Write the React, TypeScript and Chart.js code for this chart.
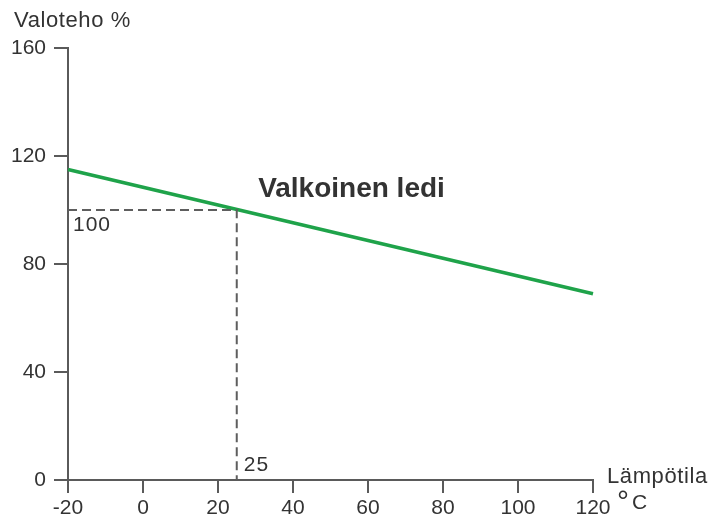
import React, { useEffect, useRef } from "react";
import { Chart, registerables } from "chart.js";

Chart.register(...registerables);

const temperatures = [-20, 120];
const lightOutput = [115, 69];
const refX = [-20, 25, 25];
const refY = [100, 100, 0];
const xTicks = [-20, 0, 20, 40, 60, 80, 100, 120];
const yTicks = [0, 40, 80, 120, 160];
const seriesLabel = "Valkoinen ledi";
const yTitle = "Valoteho %";
const xTitle = "Lämpötila";
const xUnitDeg = "°";
const xUnitC = "C";
const refXLabel = "25";
const refYLabel = "100";

const FONT = "'Liberation Sans', Arial, sans-serif";
const TEXT = "#333333";
const AXIS = "#5a5a5a";

const labelsPlugin = {
  id: "labels",
  afterDraw(chart: any) {
    const { ctx, chartArea, scales } = chart;
    const xs = scales.x;
    const ys = scales.y;
    ctx.save();
    ctx.fillStyle = TEXT;
    ctx.textBaseline = "middle";
    ctx.textAlign = "left";
    ctx.font = `22px ${FONT}`;
    (ctx as any).letterSpacing = "0.6px";
    ctx.fillText(yTitle, 14, 21);
    ctx.fillText(xTitle, chartArea.right + 14, chartArea.bottom - 3);
    (ctx as any).letterSpacing = "0px";
    ctx.font = `21px ${FONT}`;
    ctx.fillText(xUnitC, chartArea.right + 39, chartArea.bottom + 23);
    ctx.textBaseline = "alphabetic";
    ctx.font = `30px ${FONT}`;
    ctx.fillText(xUnitDeg, chartArea.right + 24, chartArea.bottom + 31);
    ctx.textBaseline = "middle";
    ctx.font = `21px ${FONT}`;
    (ctx as any).letterSpacing = "1px";
    ctx.fillText(refYLabel, chartArea.left + 5, ys.getPixelForValue(refY[0]) + 15);
    ctx.fillText(refXLabel, xs.getPixelForValue(refX[1]) + 7, chartArea.bottom - 15);
    (ctx as any).letterSpacing = "0px";
    ctx.font = `bold 28px ${FONT}`;
    ctx.fillText(seriesLabel, xs.getPixelForValue(30.7), ys.getPixelForValue(107.8));
    ctx.restore();
  },
};

export default function App() {
  const ref = useRef<HTMLCanvasElement>(null);
  useEffect(() => {
    const chart = new Chart(ref.current!, {
      type: "line",
      data: {
        datasets: [
          {
            data: refX.map((x, i) => ({ x, y: refY[i] })),
            borderColor: "#5e5e5e",
            borderWidth: 2,
            borderDash: [9, 5],
            pointRadius: 0,
            fill: false,
          },
          {
            data: temperatures.map((x, i) => ({ x, y: lightOutput[i] })),
            borderColor: "#1fa34a",
            borderWidth: 3.5,
            pointRadius: 0,
            fill: false,
          },
        ],
      },
      plugins: [labelsPlugin],
      options: {
        animation: false,
        responsive: false,
        devicePixelRatio: 1,
        clip: false as any,
        layout: { padding: { top: 48, right: 119, left: 0, bottom: 0 } },
        plugins: { legend: { display: false }, tooltip: { enabled: false } },
        scales: {
          x: {
            type: "linear",
            min: -20,
            max: 120,
            afterFit: (s: any) => {
              s.height = 42;
            },
            afterBuildTicks: (s: any) => {
              s.ticks = xTicks.map((v) => ({ value: v }));
            },
            ticks: {
              color: TEXT,
              font: { family: FONT, size: 21 },
              padding: 3,
              maxRotation: 0,
              autoSkip: false,
            },
            grid: {
              drawOnChartArea: false,
              drawTicks: true,
              tickLength: 13,
              color: AXIS,
              lineWidth: 2,
            },
            border: { color: AXIS, width: 2 },
          },
          y: {
            type: "linear",
            min: 0,
            max: 160,
            afterFit: (s: any) => {
              s.width = 68;
            },
            afterBuildTicks: (s: any) => {
              s.ticks = yTicks.map((v) => ({ value: v }));
            },
            ticks: {
              color: TEXT,
              font: { family: FONT, size: 21 },
              padding: 8,
              autoSkip: false,
            },
            grid: {
              drawOnChartArea: false,
              drawTicks: true,
              tickLength: 14,
              color: AXIS,
              lineWidth: 2,
            },
            border: { color: AXIS, width: 2 },
          },
        },
      },
    });
    return () => chart.destroy();
  }, []);
  return (
    <div style={{ position: "fixed", left: 0, top: 0, width: 712, height: 522, background: "#fff" }}>
      <canvas ref={ref} width={712} height={522} style={{ width: 712, height: 522 }} />
    </div>
  );
}
